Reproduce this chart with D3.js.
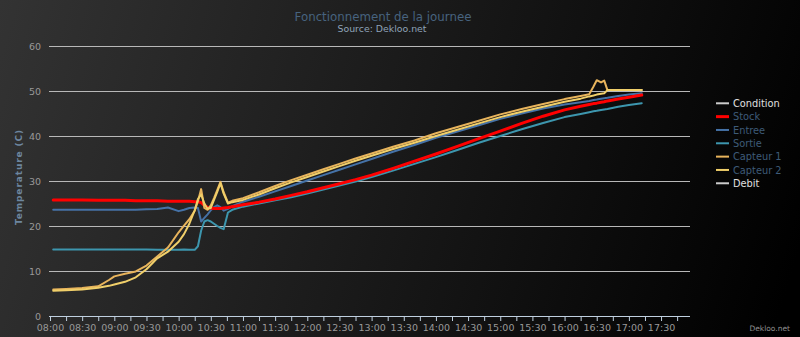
<!DOCTYPE html>
<html>
<head>
<meta charset="utf-8">
<script src="https://cdn.jsdelivr.net/npm/d3@7"></script>
<style>
  html, body { margin: 0; padding: 0; background: #000; }
  svg { display: block; font-family: "DejaVu Sans", sans-serif; }
</style>
</head>
<body>
<svg id="chart" width="800" height="337"></svg>
<script>
// Sample times (HH:MM) shared by every series
const times = ["08:03","08:15","08:30","08:45","08:55","09:00","09:10","09:20","09:30","09:40",
  "09:50","10:00","10:05","10:10","10:15","10:18","10:21","10:24","10:27","10:30",
  "10:33","10:36","10:39","10:42","10:46","10:50","11:00","11:15","11:30","11:45",
  "12:00","12:15","12:30","12:45","13:00","13:20","13:40","14:00","14:20","14:40",
  "15:00","15:20","15:40","16:00","16:15","16:23","16:27","16:30","16:34","16:37",
  "16:40","16:50","17:00","17:12"];

// Temperatures (C)
const stock = [25.8,25.8,25.8,25.7,25.7,25.7,25.7,25.6,25.6,25.6,
  25.5,25.5,25.5,25.5,25.4,25.4,25.2,24.6,24.1,24.0,
  23.9,23.9,23.9,24.0,24.1,24.3,24.7,25.3,26.0,26.8,
  27.6,28.5,29.4,30.3,31.3,32.8,34.4,36.0,37.7,39.4,
  41.1,42.8,44.4,45.8,46.6,47.0,47.2,47.3,47.5,47.6,
  47.8,48.2,48.6,49.1];
const entree = [23.6,23.6,23.6,23.6,23.6,23.6,23.6,23.6,23.7,23.8,
  24.1,23.3,23.6,24.0,24.1,24.0,21.0,21.8,22.6,23.5,
  24.2,24.6,24.2,23.4,23.8,24.4,25.4,26.5,27.7,28.9,
  30.1,31.3,32.5,33.7,34.9,36.5,38.0,39.6,41.0,42.4,
  43.8,45.0,46.1,47.0,47.5,47.8,48.0,48.1,48.3,48.4,
  48.5,48.9,49.2,49.5];
const sortie = [14.8,14.8,14.8,14.8,14.8,14.8,14.8,14.8,14.8,14.7,
  14.7,14.7,14.8,14.7,14.7,15.5,19.0,21.0,21.3,21.0,
  20.5,20.0,19.6,19.3,23.0,23.6,24.3,25.0,25.7,26.4,
  27.2,28.1,29.0,29.9,30.9,32.3,33.8,35.3,36.9,38.5,
  40.0,41.5,42.9,44.2,44.9,45.3,45.5,45.6,45.8,45.9,
  46.0,46.5,46.9,47.3];
const capteur1 = [5.9,6.0,6.2,6.6,8.0,8.8,9.4,9.9,11.2,13.2,
  15.2,18.6,20.1,21.5,23.4,25.5,28.2,24.0,23.6,24.6,
  26.2,28.0,29.8,27.5,25.2,25.6,26.2,27.5,28.9,30.2,
  31.4,32.6,33.8,35.0,36.1,37.6,39.0,40.6,42.0,43.4,
  44.8,46.0,47.1,48.2,48.9,49.3,51.0,52.4,51.9,52.3,
  50.2,50.2,50.2,50.2];
const capteur2 = [5.6,5.7,5.9,6.3,6.7,7.0,7.6,8.6,10.4,12.8,
  14.3,16.5,18.2,20.5,23.5,26.0,27.0,25.0,23.8,24.0,
  25.8,27.6,29.5,27.2,25.0,25.3,25.8,27.0,28.4,29.7,
  30.9,32.1,33.3,34.5,35.6,37.1,38.5,40.0,41.4,42.8,
  44.2,45.4,46.5,47.6,48.3,48.8,49.0,49.2,49.4,49.5,
  50.2,50.2,50.2,50.2];

const yTicks = [0, 10, 20, 30, 40, 50, 60];

// Legend entries; Condition and Debit are switched off
const seriesNames = ["Condition","Stock","Entree","Sortie","Capteur 1","Capteur 2","Debit"];
const seriesColors = ["#cccccc","#ff0000","#4572a7","#3d96ae","#e8b45c","#f0cf6a","#cccccc"];
const seriesVisible = [false,true,true,true,true,true,false];
const seriesData = [null, stock, entree, sortie, capteur1, capteur2, null];
const seriesWidth = [2,3,2,2,2,2,2];

const parse = d3.timeParse("%H:%M");
const dates = times.map(parse);

const svg = d3.select("#chart");
const W = 800, H = 337;
const plot = { left: 50, right: 690, top: 46, bottom: 316 };

// Background gradient
const defs = svg.append("defs");
const grad = defs.append("linearGradient")
  .attr("id", "bg").attr("gradientUnits", "userSpaceOnUse")
  .attr("x1", 0).attr("y1", 0).attr("x2", 800).attr("y2", 250);
grad.append("stop").attr("offset", 0).attr("stop-color", "#333333");
grad.append("stop").attr("offset", 1).attr("stop-color", "#000000");
svg.append("rect").attr("width", W).attr("height", H).attr("fill", "url(#bg)");

const x = d3.scaleTime()
  .domain([parse("08:00"), parse("17:57")])
  .range([plot.left, plot.right]);
const y = d3.scaleLinear().domain([0, 60]).range([plot.bottom, plot.top]);

// Horizontal grid lines
svg.append("g").selectAll("line")
  .data(yTicks.filter(d => d > 0)).join("line")
  .attr("x1", plot.left - 1).attr("x2", plot.right)
  .attr("y1", d => Math.round(y(d)) + 0.5).attr("y2", d => Math.round(y(d)) + 0.5)
  .attr("stroke", "#b8b8b8").attr("stroke-width", 1);

// Y axis labels
const yAxis = d3.axisLeft(y).tickValues(yTicks).tickSize(0).tickPadding(9);
const gy = svg.append("g").attr("transform", `translate(${plot.left},0)`).call(yAxis);
gy.select(".domain").remove();
gy.selectAll("text").attr("fill", "#999").attr("font-size", "9.5px")
  .attr("font-family", "DejaVu Sans, sans-serif");

// Y axis title
svg.append("text")
  .attr("transform", `translate(19,${(plot.top + plot.bottom) / 2 - 4}) rotate(-90)`)
  .attr("text-anchor", "middle").attr("dy", "0.35em")
  .attr("font-size", "9px").attr("font-weight", "bold").attr("letter-spacing", "0.9px")
  .attr("fill", "#6d869f").text("Temperature (C)");

// X axis: ticks every 15 minutes, labels every 30 minutes
const tickDates = d3.timeMinute.every(15).range(parse("08:00"), parse("17:50"));
const xAxis = d3.axisBottom(x).tickValues(tickDates).tickSize(5).tickPadding(3)
  .tickFormat(d => d.getMinutes() % 30 === 0 ? d3.timeFormat("%H:%M")(d) : "");
const gx = svg.append("g").attr("transform", `translate(0,${plot.bottom})`).call(xAxis);
gx.select(".domain").attr("stroke", "#c0d0e0").attr("d", `M${plot.left - 1},0.5H${plot.right}`);
gx.selectAll(".tick line").attr("stroke", "#c0d0e0");
gx.selectAll("text").attr("fill", "#999").attr("font-size", "9.5px")
  .attr("font-family", "DejaVu Sans, sans-serif");

// Series lines
const line = d3.line().x((d, i) => x(dates[i])).y(d => y(d));
const order = [3, 2, 1, 4, 5];
order.forEach(k => {
  svg.append("path").datum(seriesData[k])
    .attr("d", line).attr("fill", "none")
    .attr("stroke", seriesColors[k]).attr("stroke-width", seriesWidth[k])
    .attr("stroke-linejoin", "round").attr("stroke-linecap", "round");
});

// Title and subtitle
svg.append("text").attr("x", 383).attr("y", 20.5).attr("text-anchor", "middle")
  .attr("font-size", "11.8px").attr("fill", "#47637f").text("Fonctionnement de la journee");
svg.append("text").attr("x", 382).attr("y", 31.5).attr("text-anchor", "middle")
  .attr("font-size", "9.4px").attr("fill", "#8fa3b8").text("Source: Dekloo.net");

// Legend
const legend = svg.append("g");
seriesNames.forEach((name, i) => {
  const cy = 103.3 + i * 13.33;
  legend.append("line").attr("x1", 716).attr("x2", 729)
    .attr("y1", cy).attr("y2", cy)
    .attr("stroke", seriesColors[i]).attr("stroke-width", seriesWidth[i]);
  legend.append("text").attr("x", 733).attr("y", cy + 3.6)
    .attr("font-size", "9.8px")
    .attr("fill", seriesVisible[i] ? "#3e5b78" : "#e0e0e0").text(name);
});

// Credits
svg.append("text").attr("x", 790).attr("y", 331).attr("text-anchor", "end")
  .attr("font-size", "7.5px").attr("fill", "#909090").text("Dekloo.net");
</script>
</body>
</html>
